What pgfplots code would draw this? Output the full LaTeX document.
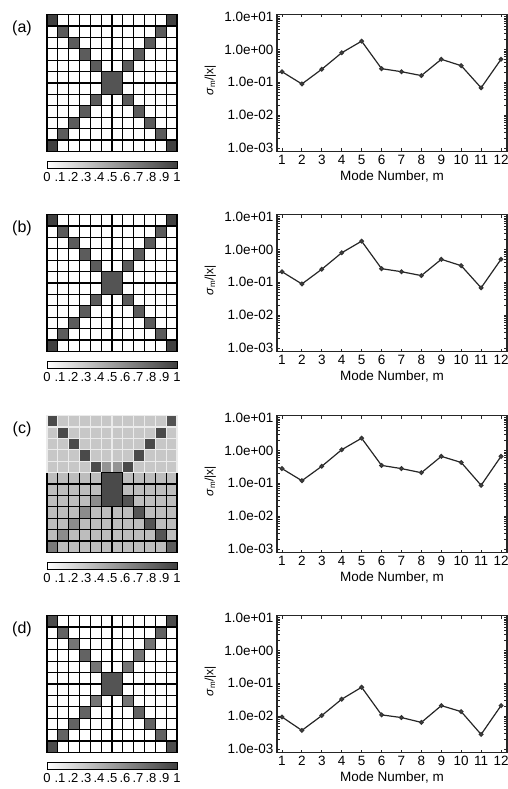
\documentclass[border=0pt]{standalone}
\usepackage{fontspec}
\setmainfont{Liberation Sans}
\usepackage{pgfplots}
\pgfplotsset{compat=1.18}
\usepackage{pgfplotstable}

% ---------- mode spectra ----------
\pgfplotstableread[row sep=\\]{
m s\\ 1 0.21\\ 2 0.089\\ 3 0.25\\ 4 0.79\\ 5 1.78\\ 6 0.26\\ 7 0.21\\ 8 0.16\\ 9 0.50\\ 10 0.32\\ 11 0.068\\ 12 0.50\\
}\specA
\pgfplotstableread[row sep=\\]{
m s\\ 1 0.21\\ 2 0.089\\ 3 0.25\\ 4 0.79\\ 5 1.78\\ 6 0.26\\ 7 0.21\\ 8 0.16\\ 9 0.50\\ 10 0.32\\ 11 0.068\\ 12 0.50\\
}\specB
\pgfplotstableread[row sep=\\]{
m s\\ 1 0.28\\ 2 0.12\\ 3 0.33\\ 4 1.05\\ 5 2.35\\ 6 0.35\\ 7 0.28\\ 8 0.21\\ 9 0.66\\ 10 0.43\\ 11 0.087\\ 12 0.66\\
}\specC
\pgfplotstableread[row sep=\\]{
m s\\ 1 0.0095\\ 2 0.0037\\ 3 0.0105\\ 4 0.033\\ 5 0.076\\ 6 0.011\\ 7 0.0091\\ 8 0.0065\\ 9 0.021\\ 10 0.0138\\ 11 0.0028\\ 12 0.021\\
}\specD

\pgfplotsset{
  gridax/.style={
    scale only axis, width=130pt, height=137pt, anchor=north west,
    xmin=0.5, xmax=12.5, ymin=0.5, ymax=12.5, y dir=reverse,
    xtick={0.5,1.5,2.5,3.5,4.5,5.5,6.5,7.5,8.5,9.5,10.5,11.5,12.5},
    ytick={0.5,1.5,2.5,3.5,4.5,5.5,6.5,7.5,8.5,9.5,10.5,11.5,12.5},
    xticklabel={\mbox{}}, yticklabel={\mbox{}},
    xticklabel style={opacity=0}, yticklabel style={opacity=0},
    tick style={draw=none},
    grid=major, major grid style={black, line width=1.3pt},
    axis line style={black, line width=1.3pt},
    clip=false,
    colormap={bw}{color(0)=(white) color(1)=(black!75)},
    point meta min=0, point meta max=1,
    colorbar horizontal,
    colorbar style={
      at={(parent axis.south west)}, anchor=north west, yshift=-1pt,
      scale only axis, width=130pt, height=7pt,
      xtick={0,0.1,0.2,0.3,0.4,0.5,0.6,0.7,0.8,0.9,1},
      xticklabels={0,.1,.2,.3,.4,.5,.6,.7,.8,.9,1},
      major tick length=0pt,
      axis line style={line width=0.6pt, black},
      xticklabel style={font=\fontsize{13}{13}\selectfont, inner sep=0pt, opacity=1, yshift=-4pt},
    },
  },
  cell/.style 2 args={only marks, mark=square*, mark size=5.417pt,
    mark options={fill=#1, draw=#2, line width=1.3pt, yscale=1.054}},
  blk/.style 2 args={only marks, mark=square*, mark size=10.833pt,
    mark options={fill=#1, draw=black, line width=1.3pt, yscale=#2}},
  modeax/.style={
    scale only axis, width=230pt, height=137pt,
    ymin=7.9e-4, ymax=11.5, xmin=0.75, xmax=12.3,
    xtick={1,2,3,4,5,6,7,8,9,10,11,12},
    xticklabels={1,2,3,4,5,6,7,8,9,10,11,12},
    ytick={0.001,0.01,0.1,1,10},
    yticklabels={1.0e-03,1.0e-02,1.0e-01,1.0e+00,1.0e+01},
    minor tick num=0,
    tick align=inside, major tick length=3pt,
    xtick pos=both, ytick pos=both,
    axis line style={line width=1.1pt, black!85},
    tick style={black!85, line width=0.8pt},
    tick label style={font=\fontsize{13.5}{14}\selectfont},
    xlabel={Mode Number, m},
    xlabel style={font=\fontsize{13.5}{14}\selectfont, inner sep=0pt, yshift=-3pt},
    ylabel={\textit{σ}\textsubscript{m}/|x|},
    ylabel style={font=\fontsize{12}{12}\selectfont, at={(axis description cs:-0.29,0.52)}, anchor=center},
  },
  specline/.style={black!85, line width=1.2pt, mark=*, mark size=1.8pt,
    mark options={fill=black!70, draw=black!80}},
}

\begin{document}
\begin{tikzpicture}
\useasboundingbox (0,0) rectangle (508pt,-789pt);

% ----- row (a) -----
\node[font=\fontsize{16}{16}\selectfont] at (22pt,-28pt) {(a)};
\begin{axis}[gridax, at={(47pt,-14.5pt)}]
  % cells of value 0.85
  \addplot[cell={black!64}{black}] coordinates {(2,2) (11,2) (3,3) (10,3) (4,4) (9,4) (5,5) (8,5) (5,8) (8,8) (4,9) (9,9) (3,10) (10,10) (2,11) (11,11)};
  % corner cells, value 1
  \addplot[cell={black!75}{black}] coordinates {(1,1) (12,1) (1,12) (12,12)};
  % central 2x2 block, value 0.9
  \addplot[blk={black!67}{1.054}] coordinates {(6.5,6.5)};
\end{axis}
\begin{semilogyaxis}[modeax, anchor=north west, at={(277pt,-14.5pt)}]
  \addplot[specline] table[x=m, y=s] {\specA};
\end{semilogyaxis}

% ----- row (b) -----
\node[font=\fontsize{16}{16}\selectfont] at (22pt,-228pt) {(b)};
\begin{axis}[gridax, at={(47pt,-214.5pt)}]
  \addplot[cell={black!64}{black}] coordinates {(2,2) (11,2) (3,3) (10,3) (4,4) (9,4) (5,5) (8,5) (5,8) (8,8) (4,9) (9,9) (3,10) (10,10) (2,11) (11,11)};
  \addplot[cell={black!75}{black}] coordinates {(1,1) (12,1) (1,12) (12,12)};
  \addplot[blk={black!67}{1.054}] coordinates {(6.5,6.5)};
\end{axis}
\begin{semilogyaxis}[modeax, anchor=north west, at={(277pt,-214.5pt)}]
  \addplot[specline] table[x=m, y=s] {\specB};
\end{semilogyaxis}

% ----- row (c) -----
\node[font=\fontsize{16}{16}\selectfont] at (22pt,-429pt) {(c)};
\begin{axis}[gridax, at={(47pt,-415.5pt)}, axis background/.style={fill=black!26}]
  % upper five rows, value 0.3, pale borders
  \addplot[cell={black!22}{black!8}] coordinates {
    (1,1) (2,1) (3,1) (4,1) (5,1) (6,1) (7,1) (8,1) (9,1) (10,1) (11,1) (12,1)
    (1,2) (2,2) (3,2) (4,2) (5,2) (6,2) (7,2) (8,2) (9,2) (10,2) (11,2) (12,2)
    (1,3) (2,3) (3,3) (4,3) (5,3) (6,3) (7,3) (8,3) (9,3) (10,3) (11,3) (12,3)
    (1,4) (2,4) (3,4) (4,4) (5,4) (6,4) (7,4) (8,4) (9,4) (10,4) (11,4) (12,4)
    (1,5) (2,5) (3,5) (4,5) (5,5) (6,5) (7,5) (8,5) (9,5) (10,5) (11,5) (12,5)};
  % value 0.55
  \addplot[cell={black!42}{black!8}] coordinates {(6,5) (7,5)};
  % value 0.95, upper arms
  \addplot[cell={black!71}{black!8}] coordinates {(1,1) (2,2) (11,2) (3,3) (10,3) (4,4) (9,4) (5,5) (8,5)};
  % value 0.9
  \addplot[cell={black!68}{black!8}] coordinates {(12,1)};
  % value 0.6, lower-left arm
  \addplot[cell={black!45}{black}] coordinates {(5,8) (4,9) (3,10) (2,11)};
  % value 0.7
  \addplot[cell={black!52}{black}] coordinates {(1,12)};
  % value 0.9, lower-right arm
  \addplot[cell={black!67}{black}] coordinates {(8,8) (9,9) (10,10) (11,11)};
  % value 0.85
  \addplot[cell={black!64}{black}] coordinates {(12,12)};
  % central block, rows 6-8, value 0.95
  \addplot[blk={black!71}{1.581}] coordinates {(6.5,7)};
\end{axis}
\begin{semilogyaxis}[modeax, anchor=north west, at={(277pt,-415.5pt)}]
  \addplot[specline] table[x=m, y=s] {\specC};
\end{semilogyaxis}

% ----- row (d) -----
\node[font=\fontsize{16}{16}\selectfont] at (22pt,-629pt) {(d)};
\begin{axis}[gridax, at={(47pt,-615.5pt)}]
  % value 0.8-0.85
  \addplot[cell={black!61}{black}] coordinates {(2,2) (11,2) (4,4) (4,9) (9,9) (3,10) (10,10) (2,11) (11,11)};
  % value 0.7-0.75
  \addplot[cell={black!54}{black}] coordinates {(3,3) (10,3) (9,4) (5,5) (8,5) (5,8) (8,8)};
  % corners, value 0.9-0.95
  \addplot[cell={black!70}{black}] coordinates {(1,1) (12,1) (1,12) (12,12)};
  \addplot[blk={black!67}{1.054}] coordinates {(6.5,6.5)};
\end{axis}
\begin{semilogyaxis}[modeax, anchor=north west, at={(277pt,-615.5pt)}]
  \addplot[specline] table[x=m, y=s] {\specD};
\end{semilogyaxis}
\end{tikzpicture}
\end{document}
